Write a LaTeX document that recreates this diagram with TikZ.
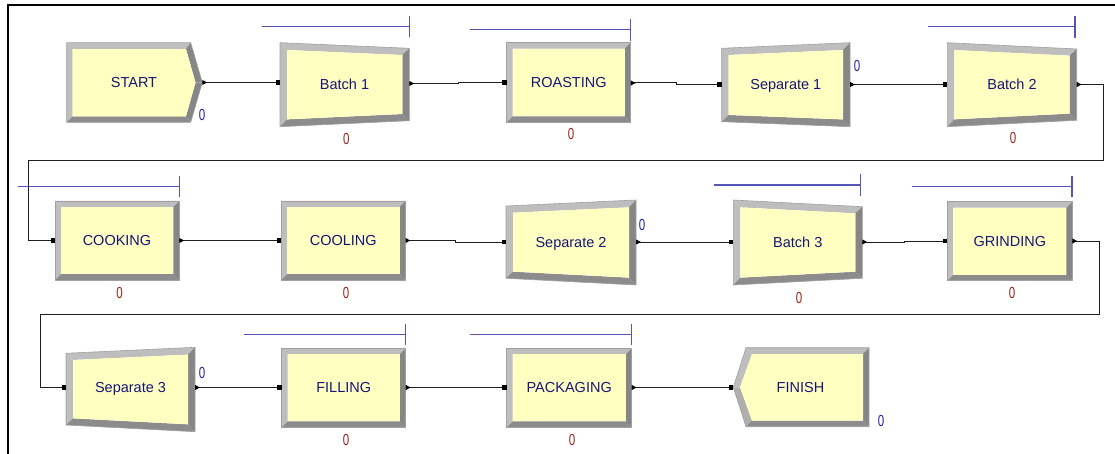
\documentclass[tikz,border=0pt]{standalone}
\usepackage{fontspec}
\setmainfont{Liberation Sans}
\newfontfamily\cntfont[FakeStretch=0.72]{Liberation Sans}
\usetikzlibrary{calc}

\definecolor{modfill}{RGB}{255,255,194}
\definecolor{bevlight}{RGB}{190,190,190}
\definecolor{bevdark}{RGB}{134,134,134}
\definecolor{modedge}{RGB}{160,160,160}
\definecolor{lbltext}{RGB}{22,22,120}
\definecolor{cntblue}{RGB}{35,35,165}
\definecolor{cntred}{RGB}{155,35,25}
\definecolor{queueline}{RGB}{85,85,185}
\definecolor{connline}{RGB}{30,30,30}

\tikzset{
  lbl/.style={inner sep=0pt, text=lbltext, font=\fontsize{14.5}{16}\selectfont,
    text height=10.4pt, text depth=0pt},
  cntb/.style={inner sep=0pt, text=cntblue, font=\cntfont\fontsize{16}{18}\selectfont,
    text height=11.5pt, text depth=0pt},
  cntr/.style={cntb, text=cntred},
  conn/.style={draw=connline, line width=1pt},
  queue/.style={draw=queueline, line width=1.3pt},
  modedgeline/.style={draw=modedge, line width=0.6pt, line join=round},
}

% bevelled four-sided module with vertical sides:
% #1 left x, #2 right x, #3 top-left y, #4 bottom-left y, #5 top-right y, #6 bottom-right y, #7 bevel
\newcommand\quadmod[7]{%
  \pgfmathsetmacro\ixa{#1+#7}%
  \pgfmathsetmacro\ixb{#2-#7}%
  \pgfmathsetmacro\itl{#3+(#5-#3)*#7/(#2-#1)+#7}%
  \pgfmathsetmacro\itr{#5-(#5-#3)*#7/(#2-#1)+#7}%
  \pgfmathsetmacro\ibl{#4+(#6-#4)*#7/(#2-#1)-#7}%
  \pgfmathsetmacro\ibr{#6-(#6-#4)*#7/(#2-#1)-#7}%
  \fill[bevlight] (#1,#3) -- (#2,#5) -- (\ixb,\itr) -- (\ixa,\itl) -- cycle;
  \fill[bevlight] (#1,#3) -- (\ixa,\itl) -- (\ixa,\ibl) -- (#1,#4) -- cycle;
  \fill[bevdark] (#2,#5) -- (#2,#6) -- (\ixb,\ibr) -- (\ixb,\itr) -- cycle;
  \fill[bevdark!95!white] (#1,#4) -- (\ixa,\ibl) -- (\ixb,\ibr) -- (#2,#6) -- cycle;
  \fill[modfill] (\ixa,\itl) -- (\ixb,\itr) -- (\ixb,\ibr) -- (\ixa,\ibl) -- cycle;
  \path[modedgeline] (#1,#3) -- (#2,#5) -- (#2,#6) -- (#1,#4) -- cycle;
}

% entry square and exit triangle on a port coordinate
\newcommand\entrymark[1]{\fill ([shift={(-4.5,-2.25)}]#1) rectangle ([shift={(0,2.25)}]#1);}
\newcommand\exitmark[1]{\fill ([shift={(0,-2.6)}]#1) -- ([shift={(4.8,0)}]#1) -- ([shift={(0,2.6)}]#1) -- cycle;}

\begin{document}
\begin{tikzpicture}[x=1pt,y=-1pt]
\useasboundingbox (0,0) rectangle (1115,454);
\fill[white] (0,0) rectangle (1115,454);

% frame
\draw[line width=2pt] (8.3,454) -- (8.3,5) -- (1115,5);

% ---------- row 1 ----------
% START (create)
\fill[bevlight] (66.7,42.7) -- (190.7,42.7) -- (186,49.2) -- (72.7,49.2) -- cycle;
\fill[bevlight] (66.7,42.7) -- (72.7,49.2) -- (72.7,116.3) -- (66.7,122.3) -- cycle;
\fill[bevdark] (190.7,42.7) -- (202.3,82.5) -- (195.5,82.5) -- (186,49.2) -- cycle;
\fill[bevdark] (202.3,82.5) -- (190.7,122.3) -- (186,116.3) -- (195.5,82.5) -- cycle;
\fill[bevdark!95!white] (66.7,122.3) -- (72.7,116.3) -- (186,116.3) -- (190.7,122.3) -- cycle;
\fill[modfill] (72.7,49.2) -- (186,49.2) -- (195.5,82.5) -- (186,116.3) -- (72.7,116.3) -- cycle;
\path[modedgeline] (66.7,42.7) -- (190.7,42.7) -- (202.3,82.5) -- (190.7,122.3) -- (66.7,122.3) -- cycle;
\node[lbl] (start) at (134,82.5) {START};
\node[cntb] (startcnt) at (202,114.5) {0};
\coordinate (startout) at (202.3,82.5);

% Batch 1
\quadmod{280}{409.3}{42.7}{126.7}{48.3}{120.7}{7}
\node[lbl] (batch1) at (344.5,84) {Batch 1};
\node[cntr] (batch1cnt) at (346.3,138.3) {0};
\coordinate (b1in) at (280,82.5);
\coordinate (b1out) at (409.3,83.5);
\coordinate (b1qa) at (262,26.7);
\coordinate (b1qb) at (409.3,26.7);
\draw[queue] (b1qa) -- (b1qb) ([yshift=-10.7]b1qb) -- ([yshift=10.6]b1qb);

% ROASTING
\quadmod{506.7}{630.7}{42.7}{122.3}{42.7}{122.3}{6}
\node[lbl] (roasting) at (568.7,82) {ROASTING};
\node[cntr] (roastingcnt) at (571,134) {0};
\coordinate (roin) at (506.7,82.5);
\coordinate (roout) at (630.7,83);
\coordinate (roqa) at (470,29.3);
\coordinate (roqb) at (630.7,29.3);
\draw[queue] (roqa) -- (roqb) ([yshift=-11.3]roqb) -- ([yshift=10]roqb);

% Separate 1
\quadmod{721.7}{850}{48.3}{121.7}{42.7}{126.7}{7}
\node[lbl] (separate1) at (785.8,84.5) {Separate 1};
\node[cntb] (separate1cnt) at (857,66) {0};
\coordinate (s1in) at (721.7,84.5);
\coordinate (s1out) at (850,84.5);

% Batch 2
\quadmod{947.3}{1076.7}{42.7}{126.7}{49}{120.3}{7}
\node[lbl] (batch2) at (1012,84.5) {Batch 2};
\node[cntr] (batch2cnt) at (1013,137.5) {0};
\coordinate (b2in) at (947.3,84.5);
\coordinate (b2out) at (1076.7,84.5);
\coordinate (b2qa) at (928,26.7);
\coordinate (b2qb) at (1075,26.7);
\draw[queue] (b2qa) -- (b2qb) ([yshift=-11.4]b2qb) -- ([yshift=10.6]b2qb);

% ---------- row 2 ----------
% COOKING
\quadmod{55}{179.3}{201}{280}{201}{280}{6}
\node[lbl] (cooking) at (117,240.5) {COOKING};
\node[cntr] (cookingcnt) at (119.7,292.5) {0};
\coordinate (ckin) at (55,240.5);
\coordinate (ckout) at (179.3,240.5);
\coordinate (ckqa) at (17.7,186.7);
\coordinate (ckqb) at (179.3,186.7);
\draw[queue] (ckqa) -- (ckqb) ([yshift=-10.7]ckqb) -- ([yshift=10.6]ckqb);

% COOLING
\quadmod{281}{405.5}{201}{280}{201}{280}{6}
\node[lbl] (cooling) at (343.3,240.5) {COOLING};
\node[cntr] (coolingcnt) at (346,292.5) {0};
\coordinate (clin) at (281,240.5);
\coordinate (clout) at (405.5,240.5);

% Separate 2
\quadmod{506}{636}{206}{278.3}{200}{285}{7}
\node[lbl] (separate2) at (571,242) {Separate 2};
\node[cntb] (separate2cnt) at (642,225) {0};
\coordinate (s2in) at (506,242);
\coordinate (s2out) at (636,242);

% Batch 3
\quadmod{733.3}{862.3}{200}{285}{206.7}{278.3}{7}
\node[lbl] (batch3) at (797.8,242) {Batch 3};
\node[cntr] (batch3cnt) at (799,297.5) {0};
\coordinate (b3in) at (733.3,242);
\coordinate (b3out) at (862.3,242);
\coordinate (b3qa) at (714,185);
\coordinate (b3qb) at (860.5,185);
\draw[queue] (b3qa) -- (b3qb) ([yshift=-11]b3qb) -- ([yshift=11]b3qb);

% GRINDING
\quadmod{947.3}{1072.3}{201.7}{280.7}{201.7}{280.7}{6}
\node[lbl] (grinding) at (1009.8,241) {GRINDING};
\node[cntr] (grindingcnt) at (1012,292.5) {0};
\coordinate (grin) at (947.3,241);
\coordinate (grout) at (1072.3,241);
\coordinate (grqa) at (911.7,186.7);
\coordinate (grqb) at (1072,186.7);
\draw[queue] (grqa) -- (grqb) ([yshift=-10.7]grqb) -- ([yshift=10.6]grqb);

% ---------- row 3 ----------
% Separate 3
\quadmod{66}{195}{353.3}{425}{347.3}{431.7}{7}
\node[lbl] (separate3) at (130.5,387.5) {Separate 3};
\node[cntb] (separate3cnt) at (202,372.5) {0};
\coordinate (s3in) at (66,387.5);
\coordinate (s3out) at (195,387.5);

% FILLING
\quadmod{281.7}{405.7}{348.3}{427.3}{348.3}{427.3}{6}
\node[lbl] (filling) at (343.7,387.5) {FILLING};
\node[cntr] (fillingcnt) at (346,440) {0};
\coordinate (fiin) at (281.7,387.5);
\coordinate (fiout) at (405.7,387.5);
\coordinate (fiqa) at (244.3,334.3);
\coordinate (fiqb) at (405.7,334.3);
\draw[queue] (fiqa) -- (fiqb) ([yshift=-11]fiqb) -- ([yshift=10]fiqb);

% PACKAGING
\quadmod{506.7}{631.7}{348.3}{427.3}{348.3}{427.3}{6}
\node[lbl] (packaging) at (569.2,387.5) {PACKAGING};
\node[cntr] (packagingcnt) at (572,440) {0};
\coordinate (pkin) at (506.7,387.5);
\coordinate (pkout) at (631.7,387.5);
\coordinate (pkqa) at (470,334.3);
\coordinate (pkqb) at (631.3,334.3);
\draw[queue] (pkqa) -- (pkqb) ([yshift=-11]pkqb) -- ([yshift=10]pkqb);

% FINISH (dispose)
\fill[bevlight] (746,347.7) -- (869,347.7) -- (863,354) -- (752,354) -- cycle;
\fill[bevlight] (746,347.7) -- (752,354) -- (740,387.3) -- (733.3,387.3) -- cycle;
\fill[bevlight!92!black] (733.3,387.3) -- (740,387.3) -- (752,420.7) -- (746,426.7) -- cycle;
\fill[bevdark] (869,347.7) -- (869,426.7) -- (863,420.7) -- (863,354) -- cycle;
\fill[bevdark!95!white] (746,426.7) -- (752,420.7) -- (863,420.7) -- (869,426.7) -- cycle;
\fill[modfill] (752,354) -- (863,354) -- (863,420.7) -- (752,420.7) -- (740,387.3) -- cycle;
\path[modedgeline] (733.3,387.3) -- (746,347.7) -- (869,347.7) -- (869,426.7) -- (746,426.7) -- cycle;
\node[lbl] (finish) at (800.5,387.5) {FINISH};
\node[cntb] (finishcnt) at (881,421) {0};
\coordinate (fnin) at (733.3,387.3);

% ---------- connectors ----------
\draw[conn] (startout) -- (b1in);
\draw[conn] (b1out) -| ($(b1out)!.5!(roin)$) |- (roin);
\draw[conn] (roout) -| ($(roout)!.5!(s1in)$) |- (s1in);
\draw[conn] (s1out) -- (b2in);
\coordinate (wrap1a) at (1103.3,161);
\coordinate (wrap1b) at (28,161);
\draw[conn] (b2out) -| (wrap1a) -- (wrap1b) |- (ckin);
\draw[conn] (ckout) -- (clin);
\draw[conn] (clout) -| ($(clout)!.5!(s2in)$) |- (s2in);
\draw[conn] (s2out) -- (b3in);
\draw[conn] (b3out) -| ($(b3out)!.5!(grin)$) |- (grin);
\coordinate (wrap2a) at (1099,314);
\coordinate (wrap2b) at (40.7,314);
\draw[conn] (grout) -| (wrap2a) -- (wrap2b) |- (s3in);
\draw[conn] (s3out) -- (fiin);
\draw[conn] (fiout) -- (pkin);
\draw[conn] (pkout) -| ($(pkout)!.5!(fnin)$) |- (fnin);

% port marks
\exitmark{startout}
\entrymark{b1in} \exitmark{b1out}
\entrymark{roin} \exitmark{roout}
\entrymark{s1in} \exitmark{s1out}
\entrymark{b2in} \exitmark{b2out}
\entrymark{ckin} \exitmark{ckout}
\entrymark{clin} \exitmark{clout}
\entrymark{s2in} \exitmark{s2out}
\entrymark{b3in} \exitmark{b3out}
\entrymark{grin} \exitmark{grout}
\entrymark{s3in} \exitmark{s3out}
\entrymark{fiin} \exitmark{fiout}
\entrymark{pkin} \exitmark{pkout}
\entrymark{fnin}
\end{tikzpicture}
\end{document}
